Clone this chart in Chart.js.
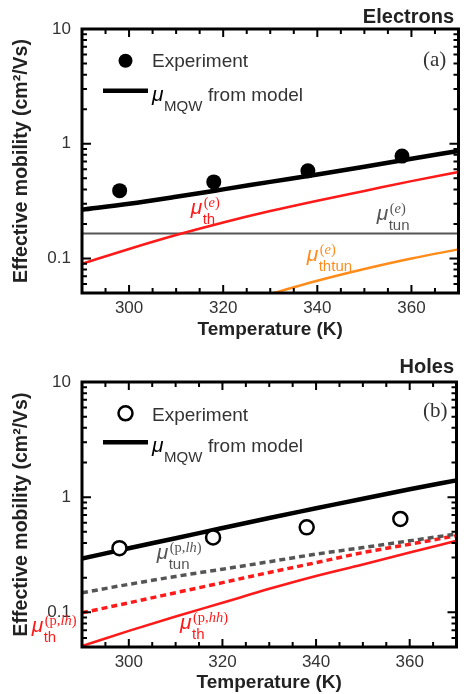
<!DOCTYPE html>
<html>
<head>
<meta charset="utf-8">
<script src="https://cdn.jsdelivr.net/npm/chart.js@4.4.1/dist/chart.umd.min.js"></script>
<style>
  body { margin: 0; background: #fff; width: 466px; height: 694px; overflow: hidden; }
  canvas { display: block; }
</style>
</head>
<body>
<canvas id="electrons" width="466" height="347"></canvas>
<canvas id="holes" width="466" height="347"></canvas>
<script>
// temperatures (K) of the model curves and of the measurements
const temps = [290, 300, 310, 320, 330, 340, 350, 360, 370];
const expTemps = [298, 318, 338, 358];

// (a) electrons
const elecExp = [0.39, 0.465, 0.58, 0.78];
const elecMqw = [0.266, 0.30, 0.345, 0.40, 0.465, 0.54, 0.63, 0.74, 0.865];
const elecTh = [0.090, 0.121, 0.160, 0.206, 0.259, 0.319, 0.388, 0.472, 0.567];
const elecTun = [0.165, 0.165, 0.165, 0.165, 0.165, 0.165, 0.165, 0.165, 0.165];
const elecThtun = [null, null, null, null, 0.049, 0.064, 0.081, 0.10, 0.12];

// (b) holes
const holeExp = [0.361, 0.447, 0.547, 0.647];
const holeMqw = [0.293, 0.36, 0.44, 0.54, 0.66, 0.80, 0.97, 1.17, 1.40];
const holeTunLh = [0.148, 0.175, 0.205, 0.237, 0.275, 0.32, 0.365, 0.418, 0.479];
const holeThLh = [0.099, 0.121, 0.148, 0.181, 0.222, 0.27, 0.33, 0.39, 0.463];
const holeThHh = [0.051, 0.069, 0.092, 0.121, 0.16, 0.207, 0.26, 0.331, 0.418];

// tick labels
const xTickLabels = [300, 320, 340, 360];
const yTickLabels = [0.1, 1, 10];

const RED = '#ff1a1a';
const GRAY = '#555555';
const ORANGE = '#ff8c1a';
const SANS = '"Liberation Sans", Arial, sans-serif';
const SERIF = '"Liberation Serif", "Times New Roman", serif';

// log ticks 0.05 ... 10 (1-9 in each decade)
const yTicks = [];
[0.01, 0.1, 1].forEach(d => {
    for (let k = 1; k <= 9; k++) {
        const v = Number((k * d).toPrecision(3));
        if (v >= 0.05) yTicks.push(v);
    }
});
yTicks.push(10);

const isYLabel = v => yTickLabels.some(l => Math.abs(v - l) / l < 1e-6);

function series(xs, ys) {
    return xs.map((x, i) => ({ x: x, y: ys[i] }));
}

function lineSet(ys, color, width, dash, order) {
    return {
        data: series(temps, ys),
        borderColor: color,
        borderWidth: width,
        borderDash: dash || [],
        pointRadius: 0,
        fill: false,
        cubicInterpolationMode: 'monotone',
        order: order
    };
}

// mu symbol with sub- and superscript
function drawMu(ctx, x, y, sub, sup, color) {
    ctx.fillStyle = color;
    ctx.textAlign = 'left';
    ctx.textBaseline = 'alphabetic';
    ctx.font = 'italic 21px ' + SANS;
    ctx.fillText('\u03bc', x, y);
    ctx.font = '15px ' + SANS;
    ctx.fillText(sub, x + 12, y + 10);
    let sx = x + 13;
    sup.forEach(([t, italic]) => {
        ctx.font = (italic ? 'italic ' : '') + '14.5px ' + SERIF;
        ctx.fillText(t, sx, y - 7);
        sx += ctx.measureText(t).width;
    });
}

const supE = [['(', 0], ['e', 1], [')', 0]];
const supLh = [['(p,', 0], ['lh', 1], [')', 0]];
const supHh = [['(p,', 0], ['hh', 1], [')', 0]];

// frame, inward ticks, legend and labels
function decor(cfg) {
    return {
        id: 'decor',
        afterDraw(chart) {
            const ctx = chart.ctx;
            const a = chart.chartArea;
            const xs = chart.scales.x;
            const ys = chart.scales.y;
            ctx.save();

            ctx.strokeStyle = '#000';
            ctx.lineWidth = 2;
            xs.ticks.forEach(t => {
                if (t.value <= xs.min || t.value >= xs.max) return;
                const px = xs.getPixelForValue(t.value);
                const len = xTickLabels.includes(t.value) ? 8 : 5;
                ctx.beginPath();
                ctx.moveTo(px, a.bottom); ctx.lineTo(px, a.bottom - len);
                ctx.moveTo(px, a.top); ctx.lineTo(px, a.top + len);
                ctx.stroke();
            });
            ys.ticks.forEach(t => {
                if (t.value <= ys.min || t.value >= ys.max) return;
                const py = ys.getPixelForValue(t.value);
                const len = isYLabel(t.value) ? 9 : 5;
                ctx.beginPath();
                ctx.moveTo(a.left, py); ctx.lineTo(a.left + len, py);
                ctx.moveTo(a.right, py); ctx.lineTo(a.right - len, py);
                ctx.stroke();
            });
            ctx.lineWidth = 3;
            ctx.strokeRect(a.left, a.top, a.right - a.left, a.bottom - a.top);

            // panel title and letter
            ctx.fillStyle = '#222';
            ctx.textAlign = 'right';
            ctx.textBaseline = 'alphabetic';
            ctx.font = 'bold 20px ' + SANS;
            ctx.fillText(cfg.title, 454, cfg.titleY);
            ctx.fillStyle = '#333';
            ctx.textAlign = 'left';
            ctx.font = '21px ' + SERIF;
            ctx.fillText(cfg.letter, 423, cfg.letterY);

            // legend
            const L = cfg.legend;
            ctx.beginPath();
            ctx.arc(125.5, L.dotY, 7, 0, Math.PI * 2);
            if (cfg.filled) {
                ctx.fillStyle = '#000';
                ctx.fill();
            } else {
                ctx.fillStyle = '#fff';
                ctx.fill();
                ctx.lineWidth = 2.5;
                ctx.stroke();
            }
            ctx.fillStyle = '#333';
            ctx.font = '19px ' + SANS;
            ctx.fillText('Experiment', 152, L.expY);
            ctx.lineWidth = 4.5;
            ctx.beginPath();
            ctx.moveTo(103, L.lineY); ctx.lineTo(148, L.lineY);
            ctx.stroke();
            ctx.fillStyle = '#000';
            ctx.font = 'italic 21px ' + SANS;
            ctx.fillText('\u03bc', 152, L.textY);
            ctx.fillStyle = '#333';
            ctx.font = '15px ' + SANS;
            ctx.fillText('MQW', 164, L.textY + 10);
            ctx.font = '19px ' + SANS;
            ctx.fillText('from model', 208, L.textY);

            cfg.labels.forEach(l => drawMu(ctx, l.x, l.y, l.sub, l.sup, l.color));
            ctx.restore();
        }
    };
}

function makeChart(id, cfg) {
    return new Chart(document.getElementById(id), {
        type: 'line',
        data: { datasets: cfg.datasets },
        options: {
            responsive: false,
            animation: false,
            layout: { padding: { top: cfg.padTop, right: 2, left: 0, bottom: 0 } },
            plugins: { legend: { display: false }, tooltip: { enabled: false } },
            scales: {
                x: {
                    type: 'linear',
                    min: 290,
                    max: 370,
                    grid: { display: false, drawTicks: false },
                    border: { display: false },
                    ticks: {
                        stepSize: 5,
                        autoSkip: false,
                        maxRotation: 0,
                        padding: 5,
                        color: '#333',
                        font: { family: SANS, size: 17 },
                        callback: v => xTickLabels.includes(v) ? String(v) : ''
                    },
                    title: {
                        display: true,
                        text: 'Temperature (K)',
                        color: '#222',
                        font: { family: SANS, size: 19, weight: 'bold' },
                        padding: { top: 0, bottom: cfg.xTitlePad }
                    },
                    afterFit: s => { s.height = cfg.xHeight; }
                },
                y: {
                    type: 'logarithmic',
                    min: 0.05,
                    max: 10,
                    grid: { display: false, drawTicks: false },
                    border: { display: false },
                    afterBuildTicks: s => { s.ticks = yTicks.map(v => ({ value: v })); },
                    ticks: {
                        autoSkip: false,
                        padding: 11,
                        color: '#333',
                        font: { family: SANS, size: 17 },
                        callback: v => isYLabel(v) ? String(v) : ''
                    },
                    title: {
                        display: true,
                        text: 'Effective mobility (cm\u00b2/Vs)',
                        color: '#222',
                        font: { family: SANS, size: 19.5, weight: 'bold' },
                        padding: { top: 10, bottom: 0 }
                    },
                    afterFit: s => { s.width = 82; }
                }
            }
        },
        plugins: [decor(cfg)]
    });
}

makeChart('electrons', {
    padTop: 29,
    xHeight: 54,
    xTitlePad: 6,
    title: 'Electrons',
    titleY: 22.5,
    letter: '(a)',
    letterY: 66,
    filled: true,
    legend: { dotY: 60.7, expY: 67, lineY: 90.7, textY: 101 },
    labels: [
        { x: 190.7, y: 214, sub: 'th', sup: supE, color: RED },
        { x: 376.7, y: 220, sub: 'tun', sup: supE, color: GRAY },
        { x: 306.7, y: 261, sub: 'thtun', sup: supE, color: ORANGE }
    ],
    datasets: [
        {
            data: series(expTemps, elecExp),
            showLine: false,
            pointRadius: 7.5,
            pointBackgroundColor: '#000',
            pointBorderColor: '#000',
            pointBorderWidth: 0,
            order: 0
        },
        lineSet(elecMqw, '#000', 4.5, null, 1),
        lineSet(elecTh, RED, 2.5, null, 2),
        lineSet(elecTun, GRAY, 2, null, 3),
        lineSet(elecThtun, ORANGE, 2.5, null, 4)
    ]
});

makeChart('holes', {
    padTop: 35,
    xHeight: 47,
    xTitlePad: 0,
    title: 'Holes',
    titleY: 26.3,
    letter: '(b)',
    letterY: 70,
    filled: false,
    legend: { dotY: 66.3, expY: 73.5, lineY: 95.3, textY: 104.7 },
    labels: [
        { x: 156.7, y: 212, sub: 'tun', sup: supLh, color: GRAY },
        { x: 31.7, y: 285, sub: 'th', sup: supLh, color: RED },
        { x: 180, y: 282, sub: 'th', sup: supHh, color: RED }
    ],
    datasets: [
        {
            data: series(expTemps, holeExp),
            showLine: false,
            pointRadius: 7,
            pointBackgroundColor: '#fff',
            pointBorderColor: '#000',
            pointBorderWidth: 2.5,
            order: 0
        },
        lineSet(holeMqw, '#000', 4.5, null, 1),
        lineSet(holeTunLh, GRAY, 3.5, [6, 4], 2),
        lineSet(holeThLh, RED, 3.5, [6, 4], 3),
        lineSet(holeThHh, RED, 2.5, null, 4)
    ]
});
</script>
</body>
</html>
